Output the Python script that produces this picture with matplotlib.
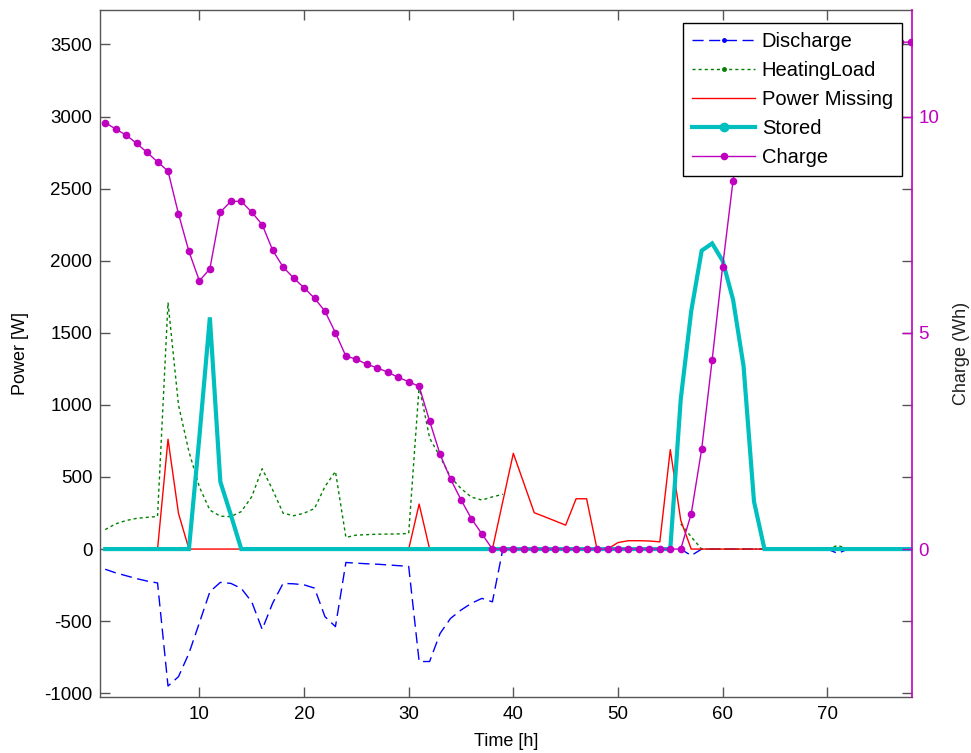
import numpy as np
import matplotlib
matplotlib.use("Agg")
import matplotlib.pyplot as plt
from matplotlib.lines import Line2D

plt.rcParams['font.family'] = ['Liberation Sans', 'DejaVu Sans']
plt.rcParams['axes.unicode_minus'] = False

# Hourly time axis
hours = np.arange(1, 79)

nan = np.nan

# Battery discharge power [W] (negative = drawn from storage)
discharge = [-140, -165, -185, -205, -222, -235, -950, -885, -723, -511,
             -296, -231, -238, -273, -366, -557, -375, -238, -241, -248,
             -271, -469, -538, -93, -98, -102, -105, -110, -115, -120,
             -780, -780, -585, -481, -423, -376, -342, -366, 0, 0,
             0, 0, 0, 0, 0, 0, 0, 0, 0, 0,
             0, 0, 0, 0, 0, 0, -45, 0, 0, 0,
             0, 0, 0, 0, 0, 0, 0, 0, 0, 0,
             -30, 0, 0, 0, 0, 0, 0, 0]

# Heating load [W]
heating = [135, 175, 198, 213, 220, 226, 1710, 1000, 675, 430,
           270, 228, 225, 260, 363, 557, 411, 249, 231, 249,
           281, 434, 538, 81, 97, 100, 103, 104, 105, 108,
           1130, 770, 640, 500, 420, 360, 340, 362, 380, nan,
           nan, nan, nan, nan, nan, nan, nan, nan, nan, nan,
           nan, nan, nan, nan, nan, 175, 85, 0, 0, 0,
           0, 0, 0, 0, 0, 0, 0, 0, 0, 0,
           25, 0, 0, 0, 0, 0, 0, 0]

# Power not covered [W]
missing = [0, 0, 0, 0, 0, 0, 762, 248, 0, 0,
           0, 0, 0, 0, 0, 0, 0, 0, 0, 0,
           0, 0, 0, 0, 0, 0, 0, 0, 0, 0,
           312, 0, 0, 0, 0, 0, 0, 0, 332, 664,
           458, 252, 224, 195, 166, 349, 349, 0, 0, 45,
           58, 58, 56, 50, 690, 200, 0, 0, 0, 0,
           0, 0, 0, 0, 0, 0, 0, 0, 0, 0,
           0, 0, 0, 0, 0, 0, 0, 0]

# Power put into storage [W]
stored = [0, 0, 0, 0, 0, 0, 0, 0, 0, 780,
          1607, 467, 238, 0, 0, 0, 0, 0, 0, 0,
          0, 0, 0, 0, 0, 0, 0, 0, 0, 0,
          0, 0, 0, 0, 0, 0, 0, 0, 0, 0,
          0, 0, 0, 0, 0, 0, 0, 0, 0, 0,
          0, 0, 0, 0, 0, 1040, 1650, 2070, 2120, 2000,
          1730, 1270, 330, 0, 0, 0, 0, 0, 0, 0,
          0, 0, 0, 0, 0, 0, 0, 0]

# State of charge [Wh]
charge = [9.86, 9.71, 9.57, 9.38, 9.17, 8.95, 8.74, 7.75, 6.88, 6.20,
          6.48, 7.79, 8.04, 8.04, 7.79, 7.50, 6.91, 6.52, 6.27, 6.04,
          5.80, 5.50, 5.00, 4.46, 4.39, 4.27, 4.19, 4.09, 3.97, 3.87,
          3.76, 2.96, 2.19, 1.62, 1.14, 0.70, 0.35, 0, 0, 0,
          0, 0, 0, 0, 0, 0, 0, 0, 0, 0,
          0, 0, 0, 0, 0, 0, 0.815, 2.31, 4.37, 6.53,
          8.52, 10.2, 11.45, 11.72, 11.72, 11.72, 11.72, 11.72, 11.72, 11.72,
          11.72, 11.72, 11.72, 11.72, 11.72, 11.72, 11.72, 11.72]

power_ticks = list(range(-1000, 3501, 500))
time_ticks = list(range(10, 71, 10))
charge_ticks = [0, 5, 10]

C_BLUE = '#0000ff'
C_GREEN = '#008000'
C_RED = '#ff0000'
C_CYAN = '#00bfbf'
C_MAG = '#bf00bf'
C_AXIS = '#555555'

W, H = 971, 753
fig = plt.figure(figsize=(W / 100, H / 100), dpi=100)
ax = fig.add_axes([100 / W, 1 - 696.7 / H, 812 / W, 686.7 / H])
ax2 = ax.twinx()

ax.plot(hours, discharge, color=C_BLUE, lw=1.0, dashes=(8, 4))
ax.plot(hours, heating, color=C_GREEN, lw=1.0, dashes=(2.2, 2.2))
ax.plot(hours, missing, color=C_RED, lw=1.0)
ax.plot(hours, stored, color=C_CYAN, lw=3.0, solid_joinstyle='miter')
ax2.plot(hours, charge, color=C_MAG, lw=1.0, marker='o', ms=5.5,
         mec='none', mfc=C_MAG)

# power axis
ylo, yhi = -1024, 3739
ax.set_xlim(0.5, 78.1)
ax.set_ylim(ylo, yhi)
ax.set_xticks(time_ticks)
ax.set_yticks(power_ticks)
ax.tick_params(direction='in', length=7, width=1, top=True, right=True,
               color=C_AXIS, labelcolor='black', labelsize=13.5, pad=5.5)
ax.tick_params(axis='x', pad=7)
for s in ('left', 'bottom', 'top'):
    ax.spines[s].set_color(C_AXIS)
    ax.spines[s].set_linewidth(1.0)
ax.spines['right'].set_visible(False)
ax.set_xlabel('Time [h]', fontsize=13, labelpad=7)
ax.set_ylabel('Power [W]', fontsize=13, labelpad=11)

# charge axis, scaled so 3000 W lines up with 10 Wh
ax2.set_ylim(ylo / 300, yhi / 300)
ax2.set_yticks(charge_ticks)
ax2.tick_params(axis='y', direction='in', length=7, width=1, color=C_MAG,
                labelcolor=C_MAG, labelsize=13.5, pad=4.5)
for s in ('left', 'bottom', 'top'):
    ax2.spines[s].set_visible(False)
ax2.spines['right'].set_color(C_MAG)
ax2.spines['right'].set_linewidth(1.2)
ax2.set_ylabel('Charge (Wh)', fontsize=13, labelpad=10, color='#222222')

handles = [
    Line2D([], [], color=C_BLUE, lw=1.0, dashes=(8, 4), marker='.', ms=5),
    Line2D([], [], color=C_GREEN, lw=1.0, dashes=(2.2, 2.2), marker='.', ms=5),
    Line2D([], [], color=C_RED, lw=1.0),
    Line2D([], [], color=C_CYAN, lw=3.0, marker='.', ms=12),
    Line2D([], [], color=C_MAG, lw=1.0, marker='o', ms=5.5, mec='none'),
]
labels = ['Discharge', 'HeatingLoad', 'Power Missing', 'Stored', 'Charge']
leg = ax2.legend(handles, labels, loc='upper right',
                 bbox_to_anchor=(0.9877, 0.9815), borderaxespad=0,
                 frameon=True, fancybox=False, edgecolor='black',
                 framealpha=1, fontsize=14.5, handlelength=3.1,
                 handletextpad=0.35, labelspacing=0.5, borderpad=0.45,
                 numpoints=1)
leg.get_frame().set_linewidth(1.0)

fig.savefig('out.png', dpi=100)
